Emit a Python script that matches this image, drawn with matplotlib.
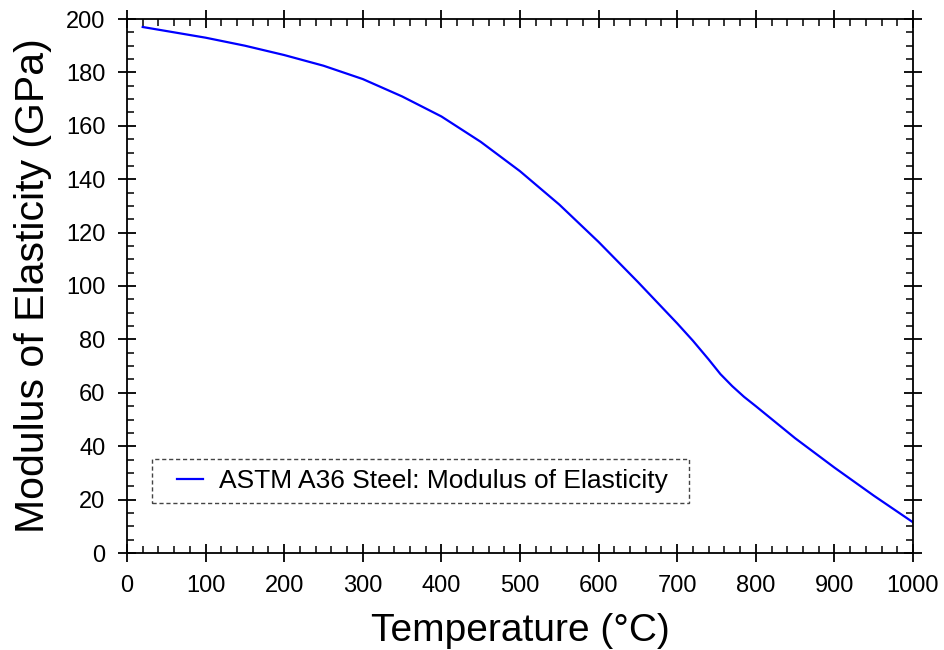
import matplotlib
matplotlib.use("Agg")
import matplotlib.pyplot as plt
from matplotlib.ticker import MultipleLocator
from matplotlib.patches import Rectangle

temperature = [20, 50, 100, 150, 200, 250, 300, 350, 400, 450, 500, 550, 600,
               650, 700, 720, 740, 755, 770, 785, 800, 850, 900, 950, 1000]
modulus = [197, 195.5, 193, 190, 186.5, 182.5, 177.5, 171, 163.5, 154, 143, 130.5,
           116.5, 101.5, 86, 79.5, 72.5, 67, 62.5, 58.5, 55, 43, 32, 21.5, 11.5]
series_label = "ASTM A36 Steel: Modulus of Elasticity"

plt.rcParams['font.family'] = ['Liberation Sans', 'DejaVu Sans']

fig = plt.figure(figsize=(9.45, 6.5), dpi=100)
ax = fig.add_axes([127/945, 1-553/650, (913-127)/945, (553-19)/650])
ax.plot(temperature, modulus, color='#0000ff', lw=1.6, label=series_label)
ax.set_xlim(0, 1000)
ax.set_ylim(0, 200)
ax.xaxis.set_major_locator(MultipleLocator(100))
ax.xaxis.set_minor_locator(MultipleLocator(20))
ax.yaxis.set_major_locator(MultipleLocator(20))
ax.yaxis.set_minor_locator(MultipleLocator(5))
ax.tick_params(which='major', direction='inout', length=13, width=1.3,
               top=True, right=True, labelsize=17, pad=9)
ax.tick_params(which='minor', direction='in', length=5, width=1.1,
               top=True, right=True)
for s in ax.spines.values():
    s.set_linewidth(1.3)
ax.set_xlabel("Temperature (°C)", fontsize=28, labelpad=12)
ax.set_ylabel("Modulus of Elasticity (GPa)", fontsize=29.5, labelpad=10)

leg = ax.legend(loc='center left', bbox_to_anchor=(0.0636, 0.135), fontsize=19,
                frameon=False, handlelength=1.0, borderpad=0, handletextpad=0.6,
                borderaxespad=0)
ax.add_patch(Rectangle((0.0318, 0.0936), 0.715 - 0.0318, 0.176 - 0.0936,
                       transform=ax.transAxes, fill=False, edgecolor='#444444',
                       linestyle=(0, (3, 2)), linewidth=1.0, zorder=5))
fig.savefig("out.png", dpi=100)
